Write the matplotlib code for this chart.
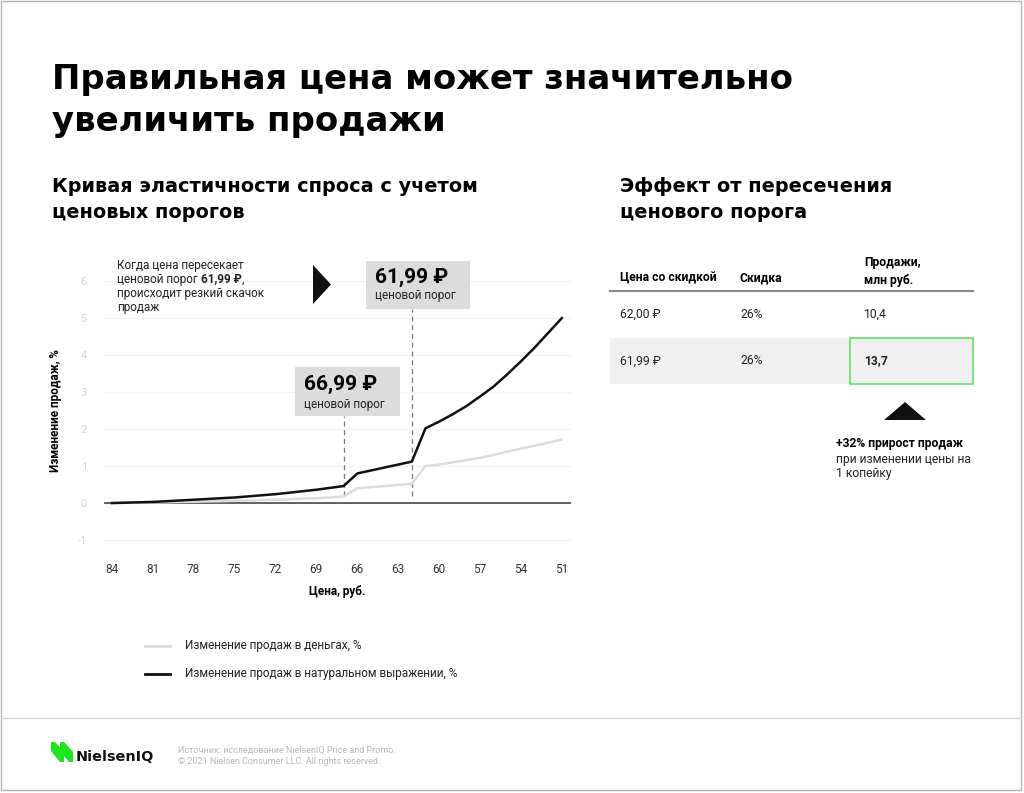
import numpy as np
import matplotlib.pyplot as plt
from matplotlib.patches import Rectangle, Polygon

plt.rcParams["font.family"] = ["Roboto", "DejaVu Sans"]
plt.rcParams["axes.unicode_minus"] = False

# data
prices = list(range(84, 50, -1))
units_change = [0.0, 0.01, 0.02, 0.03, 0.05, 0.07, 0.09, 0.11, 0.13, 0.15,
                0.18, 0.21, 0.24, 0.28, 0.32, 0.36, 0.41, 0.46,
                0.80, 0.88, 0.96, 1.04, 1.12,
                2.02, 2.20, 2.40, 2.62, 2.88, 3.15, 3.48, 3.83, 4.20, 4.60, 5.00]
money_change = [0.0, 0.005, 0.01, 0.015, 0.02, 0.03, 0.035, 0.045, 0.05, 0.06,
                0.07, 0.08, 0.09, 0.10, 0.12, 0.13, 0.15, 0.18,
                0.40, 0.43, 0.46, 0.49, 0.52,
                1.00, 1.04, 1.10, 1.16, 1.22, 1.30, 1.39, 1.47, 1.55, 1.63, 1.72]
x_ticks = [84, 81, 78, 75, 72, 69, 66, 63, 60, 57, 54, 51]
y_ticks = [-1, 0, 1, 2, 3, 4, 5, 6]
thresholds = [66.99, 61.99]
threshold_labels = ["66,99 ₽", "61,99 ₽"]

table_header = ["Цена со скидкой", "Скидка", "Продажи,\nмлн руб."]
table_rows = [["62,00 ₽", "26%", "10,4"],
              ["61,99 ₽", "26%", "13,7"]]

W, H = 1024, 793
fig = plt.figure(figsize=(W / 100, H / 100), dpi=100)
renderer = fig.canvas.get_renderer()


def fx(x):
    return x / W


def fy(y):
    return 1 - y / H


def ftext(x, y, s, **kw):
    kw.setdefault("va", "center")
    kw.setdefault("ha", "left")
    return fig.text(fx(x), fy(y), s, **kw)


def fit_text(x, y, s, width, **kw):
    # scale the font so the text spans the given pixel width
    t = ftext(x, y, s, fontsize=10, **kw)
    w = t.get_window_extent(renderer).width
    t.set_fontsize(10 * width / w)
    return t


def frect(x0, y0, x1, y1, **kw):
    r = Rectangle((fx(x0), fy(y1)), fx(x1) - fx(x0), fy(y0) - fy(y1),
                  transform=fig.transFigure, **kw)
    fig.add_artist(r)


def fpoly(pts, **kw):
    p = Polygon([(fx(a), fy(b)) for a, b in pts], closed=True,
                transform=fig.transFigure, **kw)
    fig.add_artist(p)


def fline(x0, x1, y, **kw):
    fig.add_artist(plt.Line2D([fx(x0), fx(x1)], [fy(y), fy(y)],
                              transform=fig.transFigure, **kw))


# page border and footer separator
frect(1, 1, 1021, 790, facecolor="none", edgecolor="#b5b5b5", lw=1.0)
fline(1, 1021, 718, color="#d5d5d5", lw=1.0)

# titles
wide = ["DejaVu Sans"]
t1 = fit_text(52, 80, "Правильная цена может значительно", 740,
              fontweight="bold", family=wide)
ftext(52, 122, "увеличить продажи", fontsize=t1.get_fontsize(),
      fontweight="bold", family=wide)
s1 = fit_text(52, 186, "Кривая эластичности спроса с учетом", 425,
              fontweight="bold", family=wide)
sub_size = s1.get_fontsize()
ftext(52, 213, "ценовых порогов", fontsize=sub_size, fontweight="bold",
      family=wide)
ftext(620, 186, "Эффект от пересечения", fontsize=sub_size,
      fontweight="bold", family=wide)
ftext(620, 213, "ценового порога", fontsize=sub_size, fontweight="bold",
      family=wide)

# main chart
ax = fig.add_axes([fx(103.6), fy(541.9), fx(571.4) - fx(103.6),
                   fy(279.2) - fy(541.9)])
ax.set_xlim(84.6, 50.3)
ax.set_ylim(-1.05, 6.05)
for s in ax.spines.values():
    s.set_visible(False)
ax.set_yticks(y_ticks)
ax.set_xticks(x_ticks)
ax.set_xticklabels([str(v) for v in x_ticks])
ax.tick_params(length=0)
ax.tick_params(axis="y", colors="#d6d6d6", labelsize=8, pad=12)
ax.tick_params(axis="x", colors="#333333", labelsize=8.5, pad=15)
ax.yaxis.grid(True, color="#f2f2f2", lw=0.9)
ax.axhline(0, color="#555555", lw=1.3, zorder=2)
ax.set_axisbelow(True)

ax.plot(prices, money_change, color="#dcdcdc", lw=1.8, zorder=3)
ax.plot(prices, units_change, color="#111111", lw=1.8, zorder=4)

ax.vlines(thresholds[0], 0.2, 2.35, colors="#777777", lw=0.9,
          linestyles=(0, (4, 3)), zorder=2)
ax.vlines(thresholds[1], 0.2, 5.24, colors="#777777", lw=0.9,
          linestyles=(0, (4, 3)), zorder=2)

fig.text(fx(337), fy(592), "Цена, руб.", fontsize=8.5, fontweight="bold",
         ha="center", va="center")
fig.text(fx(56), fy(411), "Изменение продаж, %", fontsize=8.5,
         fontweight="bold", rotation=90, ha="center", va="center")

# threshold boxes
frect(366, 261, 470, 309, facecolor="#dcdcdc", edgecolor="none")
ftext(375, 277, threshold_labels[1], fontsize=15, fontweight="bold")
ftext(375, 296, "ценовой порог", fontsize=8.5, color="#222222")
frect(295, 367, 400, 416, facecolor="#dcdcdc", edgecolor="none")
ftext(304, 384, threshold_labels[0], fontsize=15, fontweight="bold")
ftext(304, 404, "ценовой порог", fontsize=8.5, color="#222222")

# note with arrow
note_kw = dict(fontsize=8.5, color="#222222")
ftext(117, 265, "Когда цена пересекает", **note_kw)
t = ftext(117, 279, "ценовой порог ", **note_kw)
bb = t.get_window_extent(renderer)
t2 = fig.text(bb.x1 / fig.bbox.width, fy(279), "61,99 ₽", fontweight="bold",
              va="center", ha="left", **note_kw)
bb2 = t2.get_window_extent(renderer)
fig.text(bb2.x1 / fig.bbox.width, fy(279), ",", va="center", ha="left",
         **note_kw)
ftext(117, 293, "происходит резкий скачок", **note_kw)
ftext(117, 307, "продаж", **note_kw)
fpoly([(313, 265), (313, 304), (331, 284.5)], facecolor="#111111",
      edgecolor="none")

# legend
fline(145, 170, 646, color="#dcdcdc", lw=2)
ftext(185, 646, "Изменение продаж в деньгах, %", fontsize=8.5,
      color="#222222")
fline(145, 170, 674, color="#111111", lw=2)
ftext(185, 674, "Изменение продаж в натуральном выражении, %", fontsize=8.5,
      color="#222222")

# table
col_x = [620, 740, 864]
ftext(col_x[0], 278, table_header[0], fontsize=8.7, fontweight="bold")
ftext(col_x[1], 278, table_header[1], fontsize=8.7, fontweight="bold")
ftext(col_x[2], 271.5, table_header[2], fontsize=8.7, fontweight="bold",
      linespacing=1.45)
fline(610, 973, 291, color="#8a8a8a", lw=1.5)
frect(610, 338, 973, 384, facecolor="#efefef", edgecolor="none")
frect(850, 338, 973, 384, facecolor="none", edgecolor="#6ee36f", lw=1.3)
row_y = [314, 361]
for r, row in enumerate(table_rows):
    for c, val in enumerate(row):
        bold = (r == 1 and c == 2)
        ftext(col_x[c], row_y[r], val, fontsize=8.7,
              fontweight="bold" if bold else "normal", color="#222222")

fpoly([(884, 420), (926, 420), (905, 402)], facecolor="#111111",
      edgecolor="none")
ftext(836, 443, "+32% прирост продаж", fontsize=8.7, fontweight="bold")
ftext(836, 459, "при изменении цены на", fontsize=8.7, color="#222222")
ftext(836, 474, "1 копейку", fontsize=8.7, color="#222222")

# footer
green = "#1ee51e"
fpoly([(51, 742), (55, 742), (64, 752), (64, 762), (60, 762), (51, 751)],
      facecolor=green, edgecolor="none")
fpoly([(60, 742), (64, 742), (73, 752), (73, 762), (69, 762), (60, 751)],
      facecolor=green, edgecolor="none")
fit_text(76, 757, "NielsenIQ", 78, fontweight="bold", color="#111111",
         family=wide)
ftext(178, 750, "Источник: исследование NielsenIQ Price and Promo.",
      fontsize=6.5, color="#b8b8b8")
ftext(178, 762, "© 2021 Nielsen Consumer LLC. All rights reserved.",
      fontsize=6.5, color="#b8b8b8")

fig.savefig("out.png", dpi=100, facecolor="white")
